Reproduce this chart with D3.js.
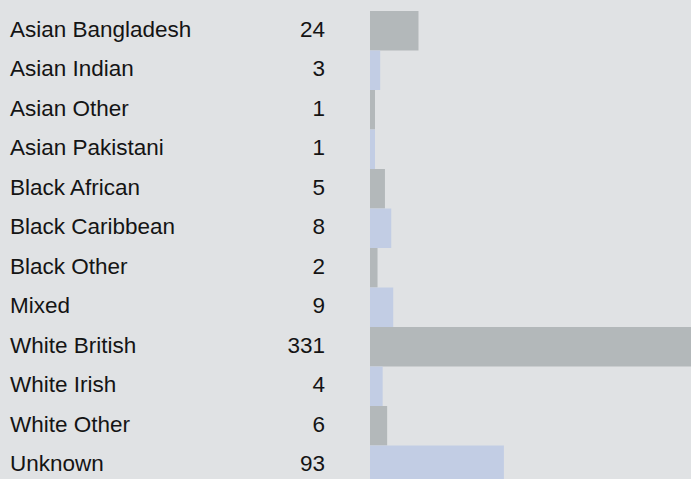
<!DOCTYPE html>
<html>
<head>
<meta charset="utf-8">
<script src="https://cdn.jsdelivr.net/npm/d3@7"></script>
<style>
  html, body { margin: 0; padding: 0; background: #e0e2e4; }
  svg { display: block; }
  text { font-family: "Liberation Sans", Arial, sans-serif; fill: #141414; }
</style>
</head>
<body>
<svg id="chart"></svg>
<script>
const categories = ['Asian Bangladesh', 'Asian Indian', 'Asian Other', 'Asian Pakistani',
  'Black African', 'Black Caribbean', 'Black Other', 'Mixed', 'White British',
  'White Irish', 'White Other', 'Unknown'];
const counts = [24, 3, 1, 1, 5, 8, 2, 9, 331, 4, 6, 93];
const barColors = ['#b3b8ba', '#c2cde4'];

const width = 691, height = 479;
const firstRow = 11, rowH = 39.5;

const svg = d3.select('#chart').attr('width', width).attr('height', height);

const y = d3.scaleBand()
  .domain(categories)
  .range([firstRow, firstRow + rowH * categories.length])
  .paddingInner(0).paddingOuter(0);

// bars grow sub-linearly, the biggest one runs off the right edge
const x = d3.scalePow().exponent(0.75)
  .domain([0, d3.max(counts)])
  .range([0, 347]);

const barX = 370;

const rows = svg.append('g')
  .selectAll('g')
  .data(categories)
  .enter()
  .append('g')
  .attr('transform', d => 'translate(0,' + y(d) + ')');

rows.append('rect')
  .attr('x', barX)
  .attr('y', 0)
  .attr('width', (d, i) => Math.max(5, x(counts[i])))
  .attr('height', y.bandwidth())
  .attr('fill', (d, i) => barColors[i % 2]);

rows.append('text')
  .attr('x', 10)
  .attr('y', 25.5)
  .attr('font-size', 22.5)
  .text(d => d);

rows.append('text')
  .attr('x', 325)
  .attr('y', 25.5)
  .attr('font-size', 22.5)
  .attr('text-anchor', 'end')
  .text((d, i) => counts[i]);
</script>
</body>
</html>
